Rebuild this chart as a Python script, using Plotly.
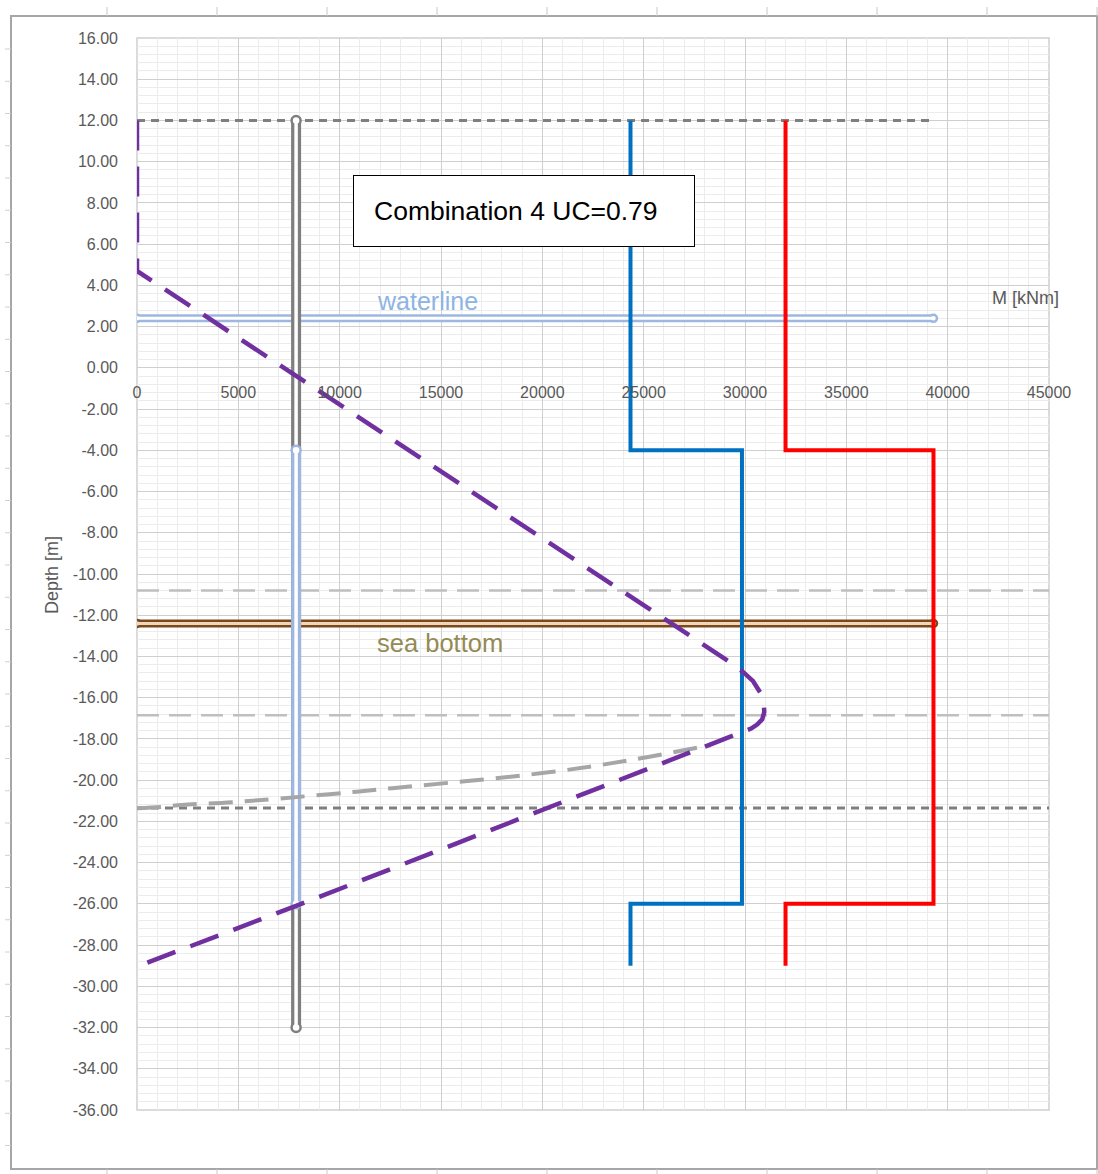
import plotly.graph_objects as go

# ---- data ----------------------------------------------------------------
# moment diagram M(z) [kNm] vs depth [m]
moment_m = [0, 0, 29300, 29900, 30400, 30750, 30930, 30950, 30850, 30600, 30300, 7850, 250]
moment_z = [12, 4.7, -14.3, -14.75, -15.2, -15.75, -16.3, -16.7, -17.05, -17.3, -17.5, -26.1, -28.95]

# secondary curve (grey long dash)
aux_m = [0, 1200, 2200, 4700, 9500, 12600, 20400, 24500, 28300]
aux_z = [-21.36, -21.3, -21.2, -21.07, -20.68, -20.39, -19.61, -19.0, -18.3]

# capacity steps (blue / red)
cap1_m = [24350, 24350, 29850, 29850, 24350, 24350]
cap2_m = [32000, 32000, 39300, 39300, 32000, 32000]
cap_z = [12, -4, -4, -26, -26, -29]

# pile
pile_m = 7850
pile_top, pile_bottom = 12, -32
pile_sec_top, pile_sec_bottom = -4, -26

# reference levels
top_level = 12
toe_level = -21.35
waterline = 2.4
sea_bottom = -12.4
soil_levels = [-10.8, -16.85]
level_end = 39300
x_max = 45000

# axes
x_range = [0, 45000]
y_range = [-36, 16]
x_ticks = list(range(0, 45001, 5000))
y_ticks = list(range(-36, 17, 2))

title_text = "Combination 4 UC=0.79"

# ---- figure --------------------------------------------------------------
W, H = 1098, 1174
L, R, T, B = 137, 49, 38, 64
PW, PH = W - L - R, H - T - B

fig = go.Figure()


def add_line(x, y, color, width, dash="solid", shape="linear"):
    fig.add_trace(go.Scatter(x=x, y=y, mode="lines", hoverinfo="skip",
                             line=dict(color=color, width=width, dash=dash, shape=shape)))


def add_double(x, y, outer, inner, w_out, w_in):
    fig.add_trace(go.Scatter(x=x, y=y, mode="lines+markers", hoverinfo="skip",
                             line=dict(color=outer, width=w_out),
                             marker=dict(size=w_out - 1, color=inner,
                                         line=dict(color=outer, width=2.5))))
    fig.add_trace(go.Scatter(x=x, y=y, mode="lines", hoverinfo="skip",
                             line=dict(color=inner, width=w_in)))


# soil-layer levels (light grey long dash)
for lv in soil_levels:
    add_line([0, x_max], [lv, lv], "#bfbfbf", 2.5, dash="22px,10px")

# top / toe levels (dark grey dash)
add_line([0, level_end], [top_level, top_level], "#7f7f7f", 3, dash="8px,6px")
add_line([0, x_max], [toe_level, toe_level], "#7f7f7f", 3, dash="8px,6px")

# waterline and sea bottom
add_double([0, level_end], [waterline, waterline], "#9db7e0", "#ffffff", 8, 3)
add_double([0, level_end], [sea_bottom, sea_bottom], "#7a4a1e", "#f3d6b8", 8, 3)

# pile
add_double([pile_m, pile_m], [pile_top, pile_bottom], "#7f7f7f", "#ffffff", 10, 3.5)
add_double([pile_m, pile_m], [pile_sec_top, pile_sec_bottom], "#9db7e0", "#ffffff", 10, 3.5)

# capacity steps
add_line(cap1_m, cap_z, "#0070c0", 4)
add_line(cap2_m, cap_z, "#ff0000", 4)

# curves
add_line(aux_m, aux_z, "#a6a6a6", 4, dash="24px,12px", shape="spline")
add_line(moment_m, moment_z, "#7030a0", 4.5, dash="30px,16px")

tick_font = dict(family="Liberation Sans, Arial, sans-serif", size=16, color="#595959")

fig.update_layout(
    width=W, height=H,
    margin=dict(l=L, r=R, t=T, b=B),
    paper_bgcolor="white", plot_bgcolor="white",
    showlegend=False,
    xaxis=dict(
        range=x_range, tickvals=x_ticks, ticktext=[str(v) for v in x_ticks],
        anchor="free", position=(0 - y_range[0]) / (y_range[1] - y_range[0]),
        showgrid=True, gridcolor="#cfcfcf", gridwidth=1,
        minor=dict(dtick=1000, showgrid=True, gridcolor="#ececec", gridwidth=1),
        zeroline=False, showline=False, ticks="", tickfont=tick_font,
        ticklabelstandoff=13,
    ),
    yaxis=dict(
        range=y_range, tickvals=y_ticks, ticktext=[f"{v:.2f}" for v in y_ticks],
        showgrid=True, gridcolor="#cfcfcf", gridwidth=1,
        minor=dict(dtick=0.4, showgrid=True, gridcolor="#ececec", gridwidth=1),
        zeroline=False, showline=False, ticks="", tickfont=tick_font,
        ticklabelstandoff=18,
    ),
)

# plot-area border
fig.add_shape(type="rect", xref="paper", yref="paper", x0=0, x1=1, y0=0, y1=1,
              line=dict(color="#d0d0d0", width=1.5), layer="below")


def px(xp):
    return (xp - L) / PW


def py(yp):
    return (H - B - yp) / PH


# chart-object frame with its cell marks
fig.add_shape(type="rect", xref="paper", yref="paper",
              x0=px(11), x1=px(1097), y0=py(1169), y1=py(16),
              line=dict(color="#a6a6a6", width=2))
for k in range(10):
    xc = 107 + 110 * k
    fig.add_shape(type="line", xref="paper", yref="paper", x0=px(xc), x1=px(xc),
                  y0=py(16), y1=py(7), line=dict(color="#c8c8c8", width=1))
    fig.add_shape(type="line", xref="paper", yref="paper", x0=px(xc), x1=px(xc),
                  y0=py(1174), y1=py(1169), line=dict(color="#c8c8c8", width=1))
k = 0
while 49 + 32.25 * k < 1165:
    yc = 49 + 32.25 * k
    fig.add_shape(type="line", xref="paper", yref="paper", x0=px(5), x1=px(11),
                  y0=py(yc), y1=py(yc), line=dict(color="#d0d0d0", width=1))
    k += 1

label_font = "Liberation Sans, Arial, sans-serif"

fig.add_annotation(x=19093, y=7.62, xref="x", yref="y", text=title_text,
                   showarrow=False, align="left", width=300, height=30,
                   borderpad=20, bordercolor="#000000", borderwidth=1, bgcolor="white",
                   font=dict(family=label_font, size=26.5, color="#000000"))
fig.add_annotation(x=11740, y=3.25, xref="x", yref="y", text="waterline",
                   showarrow=False, xanchor="left", yanchor="middle",
                   font=dict(family=label_font, size=25, color="#8eb4e3"))
fig.add_annotation(x=11740, y=-13.35, xref="x", yref="y", text="sea bottom",
                   showarrow=False, xanchor="left", yanchor="middle",
                   font=dict(family=label_font, size=25.5, color="#948a54"))
fig.add_annotation(x=px(1025), y=3.4, xref="paper", yref="y", text="M [kNm]",
                   showarrow=False, xanchor="center", yanchor="middle",
                   font=dict(family=label_font, size=18, color="#595959"))
fig.add_annotation(x=px(52), y=py(575), xref="paper", yref="paper", text="Depth [m]",
                   showarrow=False, textangle=-90, xanchor="center", yanchor="middle",
                   font=dict(family=label_font, size=18, color="#595959"))

fig.write_html("out.html")
